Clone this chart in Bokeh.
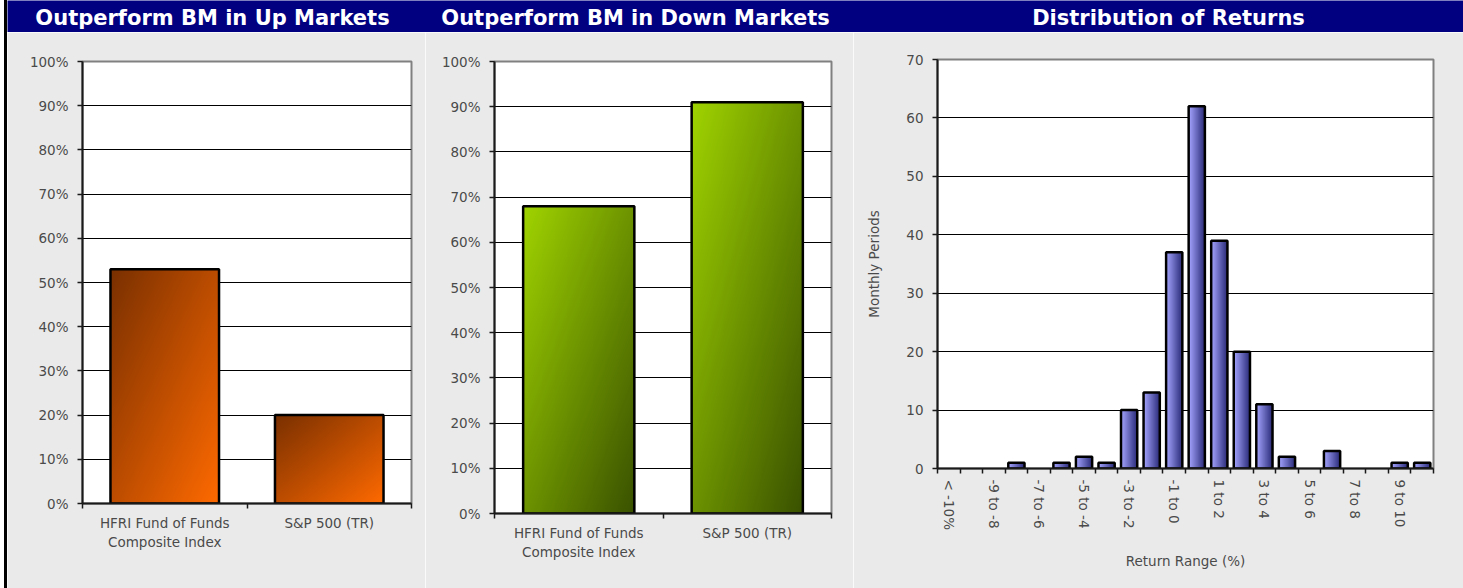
import math
import numpy as np
from bokeh.plotting import figure
from bokeh.models import Range1d, FixedTicker, PrintfTickFormatter, Label, Div, ColumnDataSource
from bokeh.layouts import row, column
from bokeh.embed import file_html
from bokeh.resources import INLINE

# ---------------- data ----------------
titles = ["Outperform BM in Up Markets", "Outperform BM in Down Markets", "Distribution of Returns"]
bar_categories = ["HFRI Fund of Funds\nComposite Index", "S&P 500 (TR)"]
up_values = [53, 20]
down_values = [68, 91]
pct_ticks = [0, 10, 20, 30, 40, 50, 60, 70, 80, 90, 100]

hist_categories = ["< -10%", "-10 to -9", "-9 to -8", "-8 to -7", "-7 to -6", "-6 to -5",
                   "-5 to -4", "-4 to -3", "-3 to -2", "-2 to -1", "-1 to 0", "0 to 1",
                   "1 to 2", "2 to 3", "3 to 4", "4 to 5", "5 to 6", "6 to 7", "7 to 8",
                   "8 to 9", "9 to 10", "> 10%"]
hist_counts = [0, 0, 0, 1, 0, 1, 2, 1, 10, 13, 37, 62, 39, 20, 11, 2, 0, 3, 0, 0, 1, 1]
count_ticks = [0, 10, 20, 30, 40, 50, 60, 70]

FONT = "DejaVu Sans"
TICK_SIZE = "13.5px"
TICK_COLOR = "#4a4a4a"
PANEL_BG = "#EAEAEA"
NAVY = "#000080"


def gradient(c0, c1, mode, nrow=120, ncol=120, gamma=1.0):
    u = np.linspace(0, 1, ncol)[None, :]
    v = np.linspace(0, 1, nrow)[:, None]  # row 0 is bottom
    if mode == "diag":
        t = (u + (1 - v)) / 2.0
    else:
        t = np.repeat(u, nrow, axis=0)
    t = np.clip(t, 0, 1) ** gamma
    c0 = np.array([int(c0[i:i + 2], 16) for i in (1, 3, 5)], dtype=float)
    c1 = np.array([int(c1[i:i + 2], 16) for i in (1, 3, 5)], dtype=float)
    img = np.empty((nrow, ncol), dtype=np.uint32)
    view = img.view(dtype=np.uint8).reshape((nrow, ncol, 4))
    for k in range(3):
        view[:, :, k] = (c0[k] + (c1[k] - c0[k]) * t).astype(np.uint8)
    view[:, :, 3] = 255
    return img


def style_axes(p):
    p.background_fill_color = "white"
    p.border_fill_color = PANEL_BG
    p.outline_line_color = "#808080"
    p.outline_line_width = 2
    p.xgrid.visible = False
    p.ygrid.grid_line_color = "black"
    p.ygrid.grid_line_width = 1
    for ax in p.axis:
        ax.axis_line_color = "#1a1a1a"
        ax.axis_line_width = 2
        ax.major_label_text_font = FONT
        ax.major_label_text_font_size = TICK_SIZE
        ax.major_label_text_color = TICK_COLOR
        ax.axis_label_text_font = FONT
        ax.axis_label_text_font_size = TICK_SIZE
        ax.axis_label_text_color = TICK_COLOR
        ax.axis_label_text_font_style = "normal"
        ax.major_tick_line_color = "#1a1a1a"
        ax.minor_tick_line_color = "#1a1a1a"
        ax.major_tick_line_width = 1.5
        ax.minor_tick_line_width = 1.5
    p.yaxis.major_tick_out = 5
    p.yaxis.major_tick_in = 0
    p.yaxis.minor_tick_out = 0
    p.yaxis.minor_tick_in = 0
    p.yaxis.major_label_standoff = 9
    p.xaxis.major_tick_out = 0
    p.xaxis.major_tick_in = 0
    p.xaxis.minor_tick_out = 5
    p.xaxis.minor_tick_in = 0


def bar_panel(values, fw, fh, left, right, bottom, c0, c1):
    n = len(bar_categories)
    p = figure(frame_width=fw, frame_height=fh, output_backend="svg", toolbar_location=None,
               x_range=Range1d(-0.5, n - 0.5), y_range=Range1d(0, 100),
               min_border_left=left, min_border_right=right,
               min_border_top=29, min_border_bottom=bottom)
    style_axes(p)
    xs = list(range(n))
    bw = 0.66
    img = gradient(c0, c1, "diag")
    src = ColumnDataSource(dict(image=[img] * n, x=[x - bw / 2 for x in xs], y=[0] * n,
                                dw=[bw] * n, dh=values, xc=xs, top=values))
    p.image_rgba(image="image", x="x", y="y", dw="dw", dh="dh", source=src)
    p.vbar(x="xc", top="top", width=bw, bottom=0, source=src, fill_alpha=0,
           line_color="black", line_width=2.5)
    p.yaxis.ticker = FixedTicker(ticks=pct_ticks)
    p.yaxis.formatter = PrintfTickFormatter(format="%d%%")
    p.ygrid.ticker = FixedTicker(ticks=pct_ticks[1:-1])
    p.xaxis.ticker = FixedTicker(ticks=xs, minor_ticks=[x - 0.5 for x in xs] + [n - 0.5])
    p.xaxis.major_label_overrides = {i: c for i, c in enumerate(bar_categories)}
    p.xaxis.major_label_standoff = 6
    return p


p1 = bar_panel(up_values, 329, 442, 75, 14, 85, "#7a3000", "#ff6a00")
p2 = bar_panel(down_values, 337, 452, 69, 22, 75, "#a0d400", "#3a5200")

# histogram
nh = len(hist_categories)
p3 = figure(frame_width=496, frame_height=409, output_backend="svg", toolbar_location=None,
            x_range=Range1d(-0.5, nh - 0.5), y_range=Range1d(0, 70),
            min_border_left=84, min_border_right=30, min_border_top=27, min_border_bottom=120)
style_axes(p3)
hx = list(range(nh))
hw = 0.72
himg = gradient("#a4a4ff", "#2a2a78", "horiz", nrow=8, ncol=64)
nz = [i for i, c in enumerate(hist_counts) if c > 0]
hsrc = ColumnDataSource(dict(image=[himg] * len(nz), x=[hx[i] - hw / 2 for i in nz],
                             y=[0] * len(nz), dw=[hw] * len(nz),
                             dh=[hist_counts[i] for i in nz], xc=[hx[i] for i in nz],
                             top=[hist_counts[i] for i in nz]))
p3.image_rgba(image="image", x="x", y="y", dw="dw", dh="dh", source=hsrc)
p3.vbar(x="xc", top="top", width=hw, bottom=0, source=hsrc, fill_alpha=0,
        line_color="black", line_width=2.5)
p3.yaxis.ticker = FixedTicker(ticks=count_ticks)
p3.ygrid.ticker = FixedTicker(ticks=count_ticks[1:-1])
p3.xaxis.ticker = FixedTicker(ticks=hx[::2], minor_ticks=[x - 0.5 for x in hx] + [nh - 0.5])
p3.xaxis.major_label_overrides = {i: hist_categories[i] for i in hx[::2]}
p3.xaxis.major_label_orientation = "vertical"
p3.xaxis.major_label_standoff = 6
p3.xaxis.axis_label = "Return Range (%)"
p3.xaxis.axis_label_standoff = 20
p3.yaxis.axis_label = "Monthly Periods"
p3.yaxis.axis_label_standoff = 21

# header bar
header = figure(frame_width=1456, frame_height=32, output_backend="svg", toolbar_location=None,
                title=None, x_range=Range1d(0, 1456), y_range=Range1d(0, 32), min_border=0)
header.background_fill_color = NAVY
header.border_fill_color = NAVY
header.outline_line_color = None
header.axis.visible = False
header.grid.visible = False
for cx, t in zip([205, 628, 1161], titles):
    header.add_layout(Label(x=cx, y=14.5, text=t, text_align="center", text_baseline="middle",
                            text_color="white", text_font=FONT, text_font_style="bold",
                            text_font_size="21px"))

strip = Div(width=3, height=588, margin=(0, 0, 0, 4), styles={"background-color": "black"})
panels = row(column(p1), column(p2), column(p3), spacing=0)
root = row(strip, column(header, panels, spacing=0), spacing=0)

open("out.html", "w").write(file_html(root, INLINE))
